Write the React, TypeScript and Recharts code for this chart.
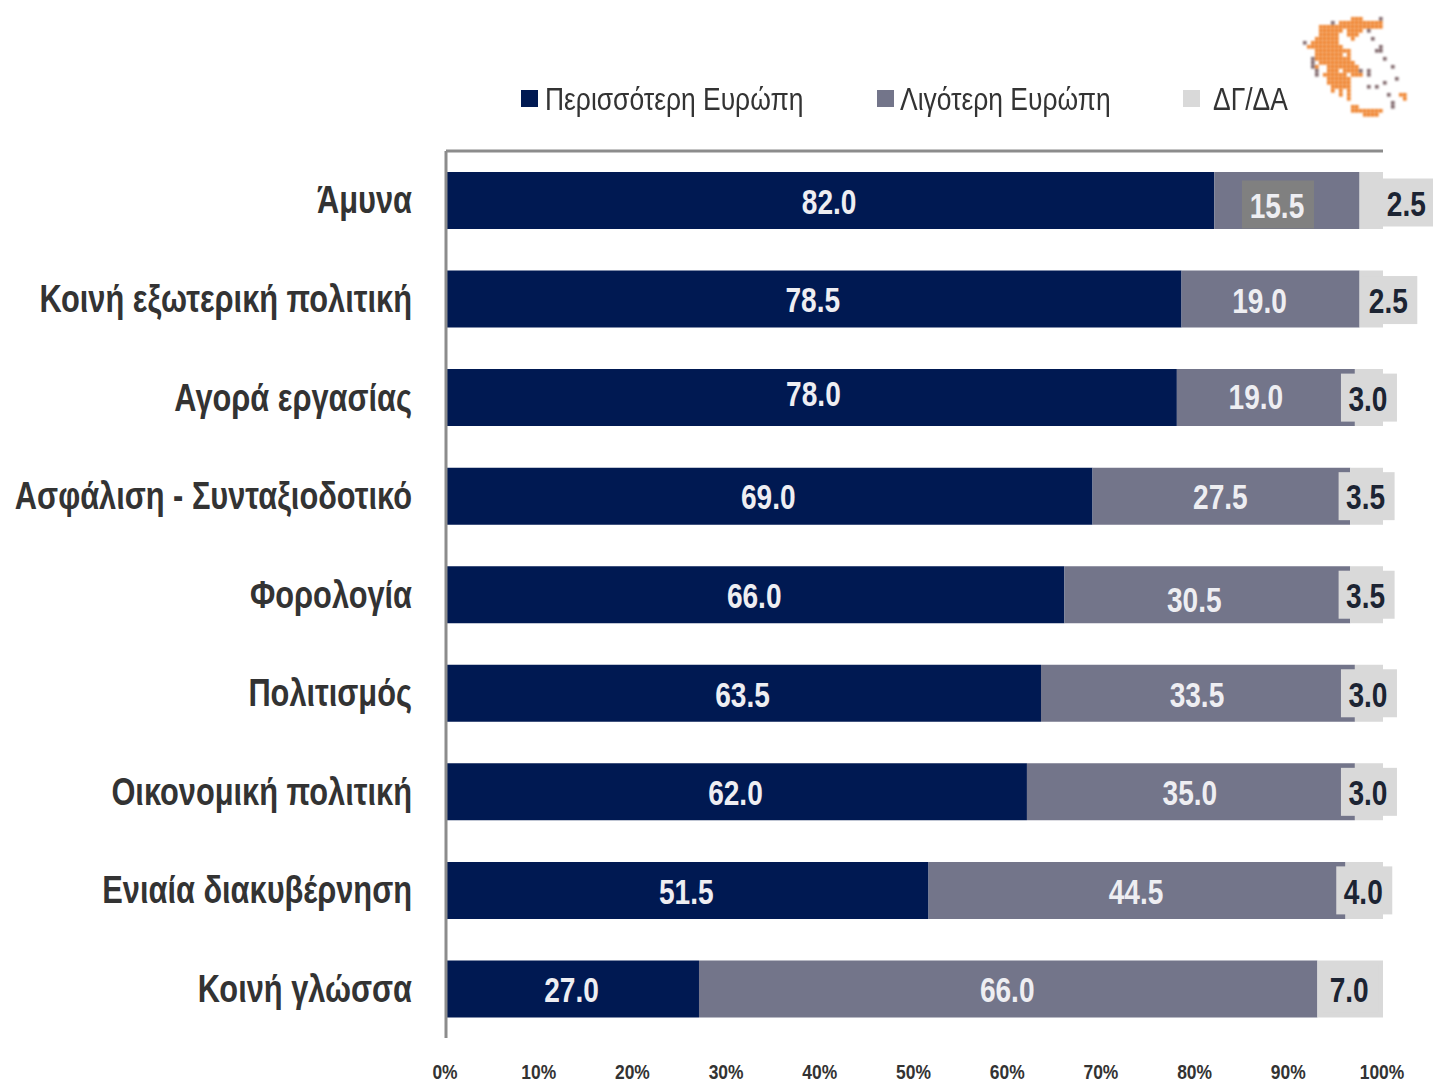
import { BarChart, Bar, XAxis, YAxis, Legend, LabelList, CartesianGrid } from "recharts";

const categories = [
  "Άμυνα",
  "Κοινή εξωτερική πολιτική",
  "Αγορά εργασίας",
  "Ασφάλιση - Συνταξιοδοτικό",
  "Φορολογία",
  "Πολιτισμός",
  "Οικονομική πολιτική",
  "Ενιαία διακυβέρνηση",
  "Κοινή γλώσσα",
];
const more = [82.0, 78.5, 78.0, 69.0, 66.0, 63.5, 62.0, 51.5, 27.0];
const less = [15.5, 19.0, 19.0, 27.5, 30.5, 33.5, 35.0, 44.5, 66.0];
const dkna = [2.5, 2.5, 3.0, 3.5, 3.5, 3.0, 3.0, 4.0, 7.0];
const ticks = [0, 10, 20, 30, 40, 50, 60, 70, 80, 90, 100];

const rows = categories.map((name, i) => ({ name, more: more[i], less: less[i], dkna: dkna[i] }));

const FONT = "'Liberation Sans', Arial, sans-serif";
const NAVY = "#001952";
const SLATE = "#73758a";
const LIGHT = "#d9d9d9";
// no Arial Narrow here, so squeeze Liberation Sans instead
const SQUEEZE = 0.81;

// hand placed labels in the original slide, [dx, dy] by series and row
const nudges: Record<string, Record<number, [number, number]>> = {
  more: { 2: [3, -5] },
  less: { 0: [-9, 4], 1: [-10, 1], 2: [-9, -2], 4: [-12, 4] },
  dkna: { 0: [36, 2], 1: [18, 1] },
};

// greek map logo, top right. O = orange cell, d = grey dot
const logo = [
  "............OOO....d",
  ".......d.OOOOOOOOOOO",
  "....OOOOOOOOOOOOOOOO",
  "....OOOOOO.OOOO.d...",
  "....OOOOO..OOO......",
  "...OOOOOO...O....d..",
  "d.OOOOOOO...........",
  ".OOOOOOOOO.........d",
  "...OOOOOOOOO......dd",
  "...OOOOOOO.O........",
  "..dOOOOOOOOO........d",
  "..d.OOOOOOOOO.......",
  "..dO..OOOOOOOO........d",
  "...d..OOO.OOOOd.d",
  "...d.OOOOOO.OOO.d",
  "......OOOOOO...........d",
  "......OOOOOO........d",
  ".......OOOOO....d.d",
  ".......O.O.O",
  ".........O.O.........d..OO",
  "...........O.............O",
  "......................d",
  "............OO........d",
  "............OOOOOOOO",
  "...............OOOO",
];

function GreeceLogo() {
  return (
    <svg
      width={120}
      height={115}
      style={{ position: "absolute", left: 1295, top: 5, filter: "blur(0.8px)" }}
    >
      {logo.flatMap((row, r) =>
        row.split("").map((c, i) =>
          c === "." ? null : (
            <rect
              key={`${r}-${i}`}
              x={8 + i * 4}
              y={12 + r * 4}
              width={3.6}
              height={3.6}
              fill={c === "O" ? "#ef7f26" : "#7d6468"}
            />
          )
        )
      )}
    </svg>
  );
}

function BarValue(props: any) {
  const { x, y, width, height, value, index, series } = props;
  const [dx, dy] = nudges[series]?.[index] ?? [0, 0];
  const cx = x + width / 2 + dx;
  const cy = y + height / 2 + dy;
  const isDk = series === "dkna";
  const boxed = series === "less" && index === 0;
  return (
    <g>
      {isDk && <rect x={cx - 28} y={cy - 24} width={56} height={48} fill={LIGHT} />}
      {boxed && <rect x={cx - 36} y={cy - 24} width={72} height={48} fill="#808080" />}
      <text
        transform={`translate(${cx - 1},${cy + 1}) scale(0.78,1)`}
        textAnchor="middle"
        dominantBaseline="central"
        fontFamily={FONT}
        fontWeight={700}
        fontSize={36}
        fill={isDk ? "#1c2433" : "#eeeef2"}
      >
        {Number(value).toFixed(1)}
      </text>
    </g>
  );
}

const legendItems = [
  { label: "Περισσότερη Ευρώπη", color: NAVY, left: 521, textLeft: 545 },
  { label: "Λιγότερη Ευρώπη", color: SLATE, left: 877, textLeft: 900 },
  { label: "ΔΓ/ΔΑ", color: LIGHT, left: 1183, textLeft: 1213 },
];

// zero height so the legend takes no room from the plot
function TopLegend() {
  return (
    <div style={{ position: "relative", width: 1433, height: 0 }}>
      {legendItems.map((it) => (
        <div key={it.label}>
          <div style={{ position: "absolute", left: it.left, top: 90, width: 17, height: 17, background: it.color }} />
          <div
            style={{
              position: "absolute",
              left: it.textLeft,
              top: 80,
              fontFamily: FONT,
              fontSize: 32,
              lineHeight: "38px",
              color: "#333333",
              whiteSpace: "nowrap",
              transform: `scaleX(${SQUEEZE + 0.016})`,
              transformOrigin: "left center",
            }}
          >
            {it.label}
          </div>
        </div>
      ))}
    </div>
  );
}

function CategoryTick({ x, y, payload }: any) {
  return (
    <text
      transform={`translate(${x},${y}) scale(${SQUEEZE},1)`}
      textAnchor="end"
      dominantBaseline="central"
      fontFamily={FONT}
      fontWeight={700}
      fontSize={38}
      fill="#333333"
    >
      {payload.value}
    </text>
  );
}

function PercentTick({ x, y, payload }: any) {
  return (
    <text
      transform={`translate(${x - 1},${y}) scale(0.83,1)`}
      textAnchor="middle"
      dominantBaseline="central"
      fontFamily={FONT}
      fontWeight={700}
      fontSize={21}
      fill="#333333"
    >
      {`${payload.value}%`}
    </text>
  );
}

export default function App() {
  return (
    <div style={{ position: "absolute", left: 0, top: 0, width: 1433, height: 1083, background: "#fff" }}>
      <BarChart
        width={1433}
        height={1083}
        data={rows}
        layout="vertical"
        barSize={57}
        margin={{ top: 151, right: 50, bottom: 0, left: 0 }}
        style={{ overflow: "visible" }}
      >
        {/* only the top rule of the plot */}
        <CartesianGrid
          vertical={false}
          horizontalCoordinatesGenerator={({ offset }: any) => [offset.top]}
          stroke="#8c8c8c"
          strokeWidth={3}
        />
        <XAxis
          type="number"
          domain={[0, 100]}
          ticks={ticks}
          axisLine={false}
          tickLine={false}
          height={45}
          tickMargin={28}
          tick={<PercentTick />}
          interval={0}
        />
        <YAxis
          type="category"
          dataKey="name"
          width={446}
          interval={0}
          tick={<CategoryTick />}
          tickLine={false}
          tickMargin={28}
          axisLine={{ stroke: "#8c8c8c", strokeWidth: 3 }}
        />
        <Legend content={<TopLegend />} wrapperStyle={{ left: 0, top: 0, width: 1433 }} verticalAlign="top" />
        <Bar dataKey="more" stackId="a" fill={NAVY} isAnimationActive={false}>
          <LabelList dataKey="more" content={(p: any) => <BarValue {...p} series="more" />} />
        </Bar>
        <Bar dataKey="less" stackId="a" fill={SLATE} isAnimationActive={false}>
          <LabelList dataKey="less" content={(p: any) => <BarValue {...p} series="less" />} />
        </Bar>
        <Bar dataKey="dkna" stackId="a" fill={LIGHT} isAnimationActive={false}>
          <LabelList dataKey="dkna" content={(p: any) => <BarValue {...p} series="dkna" />} />
        </Bar>
      </BarChart>
      <GreeceLogo />
    </div>
  );
}
